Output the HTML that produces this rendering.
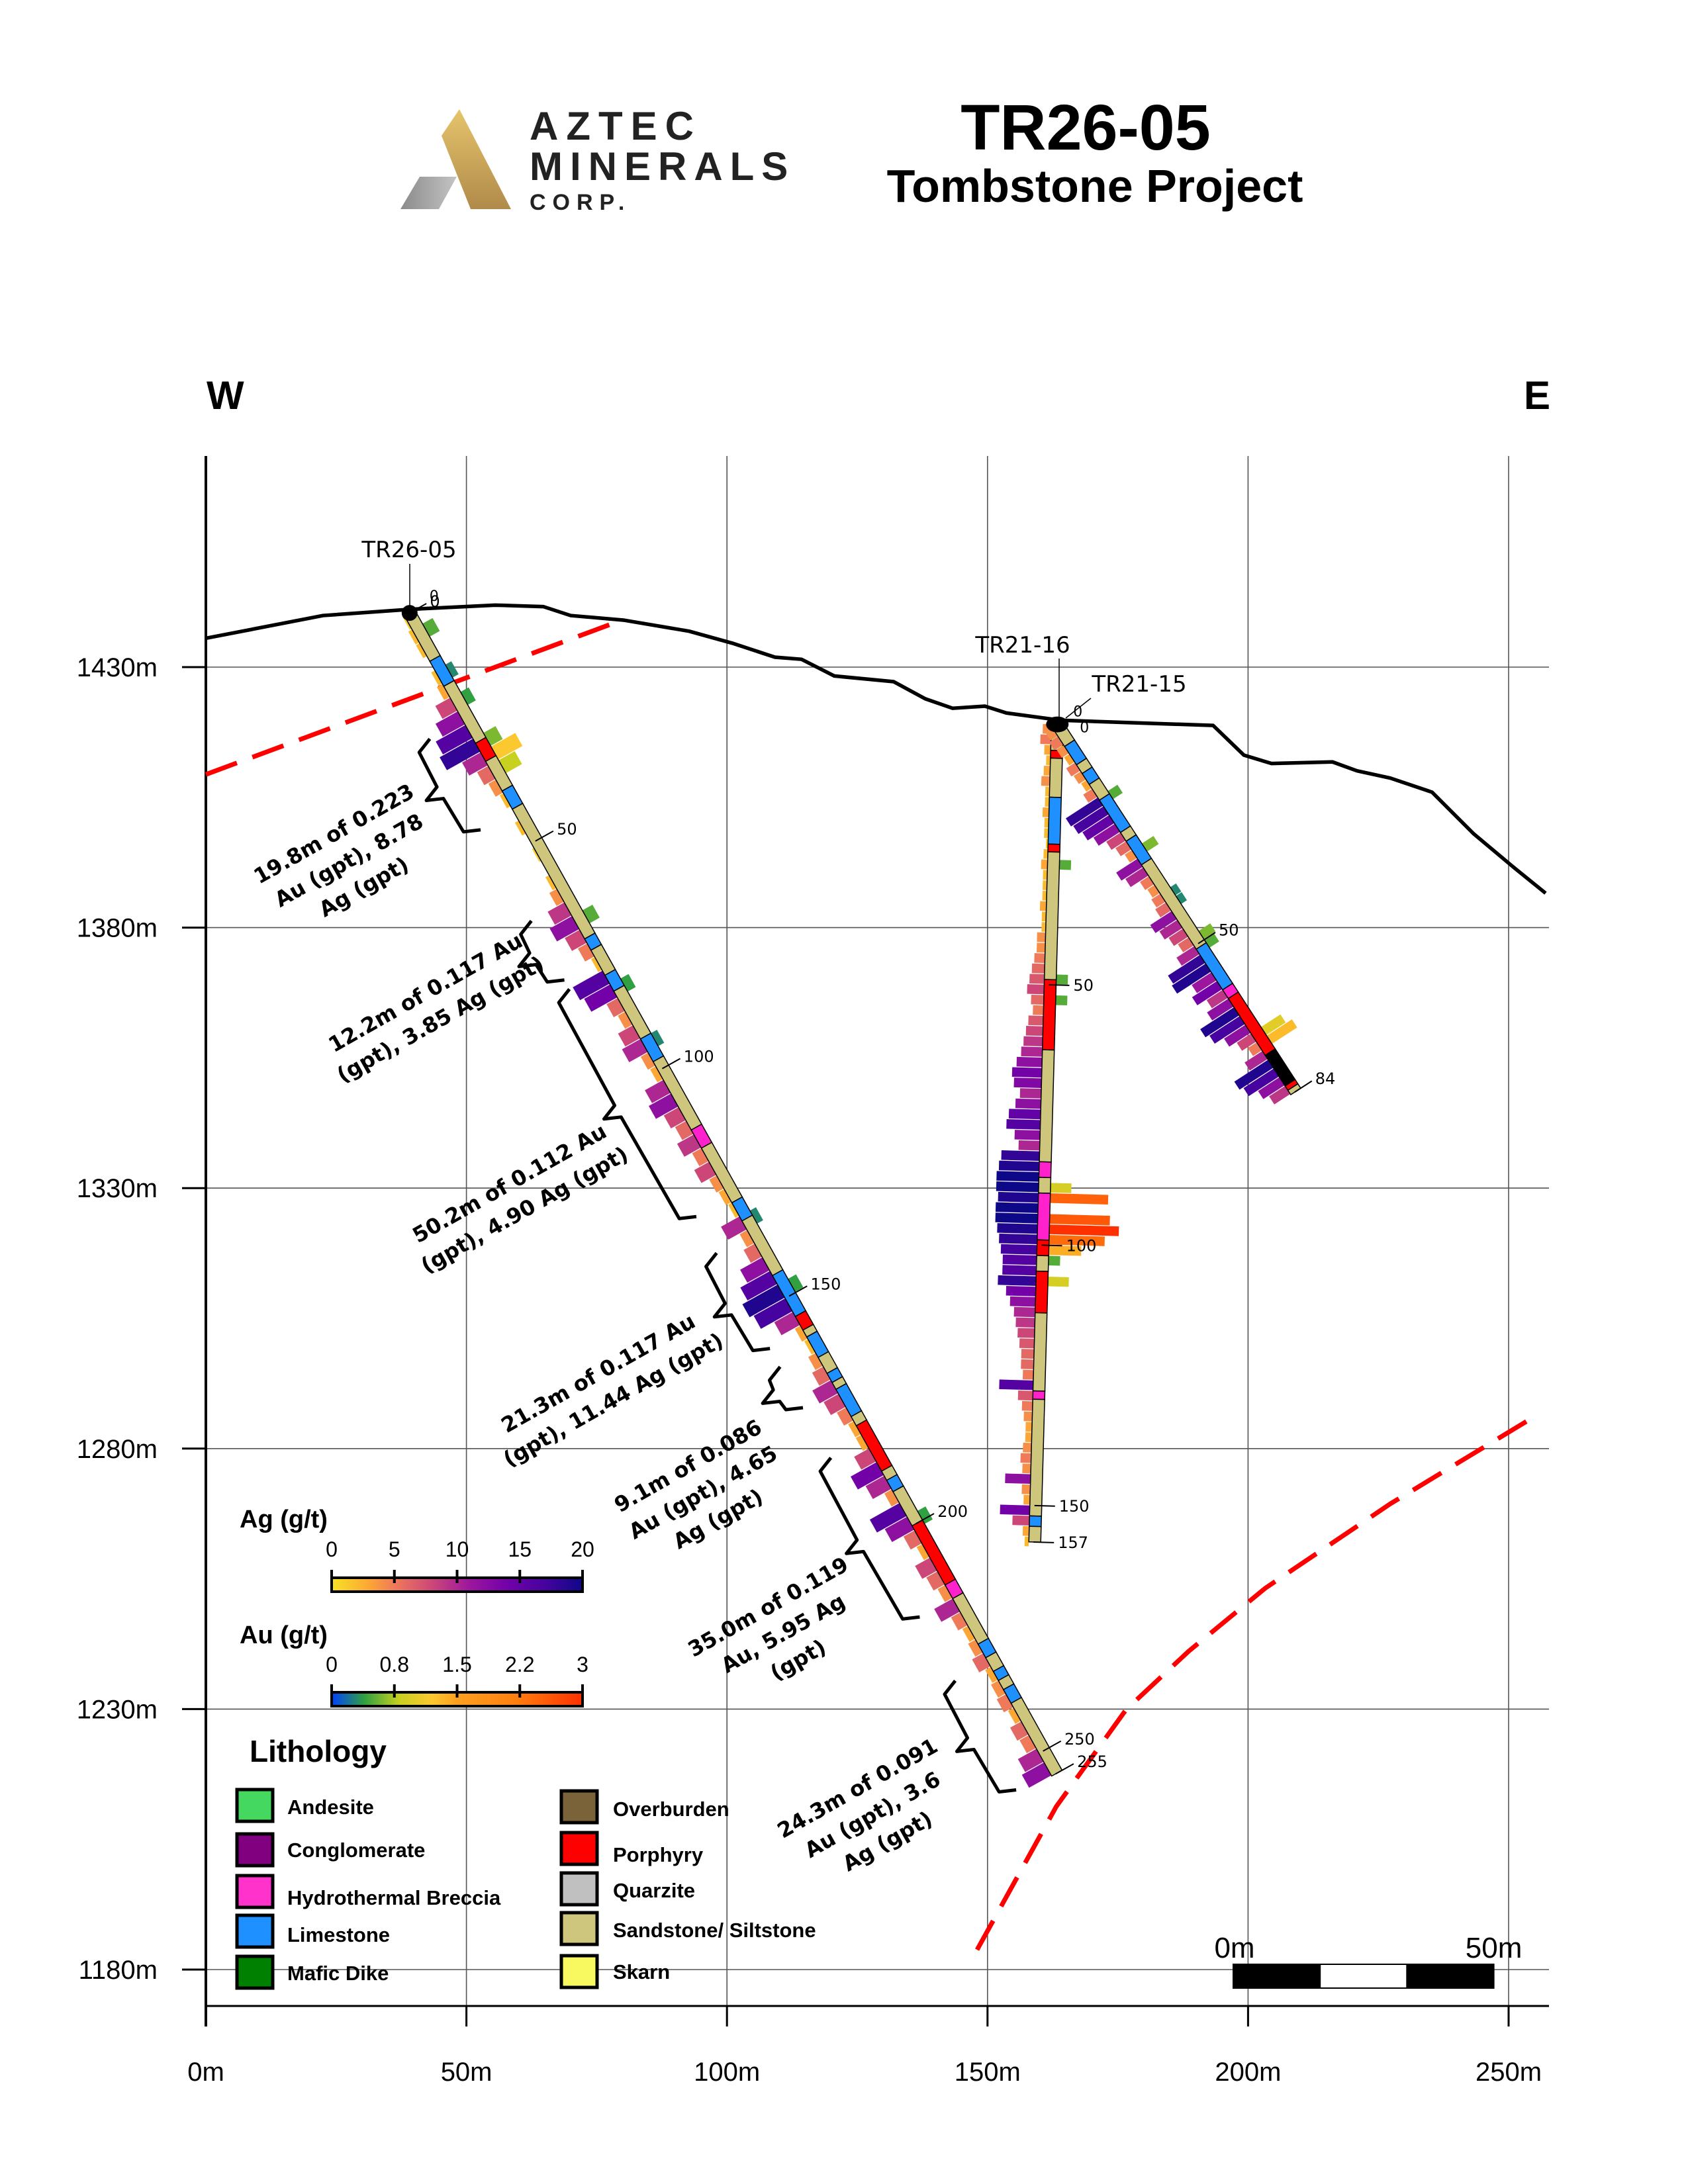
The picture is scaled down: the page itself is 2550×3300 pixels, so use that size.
<!DOCTYPE html>
<html><head><meta charset="utf-8"><title>TR26-05 Tombstone Project</title>
<style>
html,body{margin:0;padding:0;background:#fff;}
svg{display:block;}
.lib{font-family:"Liberation Sans",sans-serif;}
.dv{font-family:"DejaVu Sans","Liberation Sans",sans-serif;}
</style></head>
<body>
<svg id="chart" xmlns="http://www.w3.org/2000/svg" width="2550" height="3300" viewBox="0 0 2550 3300">
<defs>
<linearGradient id="gold" x1="0" y1="0" x2="0" y2="1"><stop offset="0" stop-color="#e6c46c"/><stop offset="1" stop-color="#b08a4a"/></linearGradient>
<linearGradient id="grey" x1="0" y1="0" x2="1" y2="0"><stop offset="0" stop-color="#8a8a8a"/><stop offset="1" stop-color="#c4c4c4"/></linearGradient>
<linearGradient id="agGrad" x1="0" y1="0" x2="1" y2="0">
<stop offset="0" stop-color="#f7e225"/><stop offset="0.15" stop-color="#fca636"/><stop offset="0.25" stop-color="#ef7a5a"/><stop offset="0.4" stop-color="#cc4778"/><stop offset="0.55" stop-color="#9c179e"/><stop offset="0.7" stop-color="#7201a8"/><stop offset="0.85" stop-color="#46039f"/><stop offset="1" stop-color="#0d0887"/></linearGradient>
<linearGradient id="auGrad" x1="0" y1="0" x2="1" y2="0">
<stop offset="0" stop-color="#0040ff"/><stop offset="0.13" stop-color="#30a040"/><stop offset="0.27" stop-color="#c8d020"/><stop offset="0.4" stop-color="#fcc830"/><stop offset="0.5" stop-color="#fca020"/><stop offset="0.73" stop-color="#ff8010"/><stop offset="1" stop-color="#ff3000"/></linearGradient>
</defs>

<g>
  <polygon points="605,316 634,267 690,267 663,316" fill="url(#grey)"/>
  <polygon points="694,165 667,205 711,316 772,316" fill="url(#gold)"/>
  <text x="800" y="211" class="lib" font-weight="bold" font-size="60" letter-spacing="12" fill="#222">AZTEC</text>
  <text x="800" y="272" class="lib" font-weight="bold" font-size="60" letter-spacing="11" fill="#222">MINERALS</text>
  <text x="800" y="317" class="lib" font-weight="bold" font-size="34" letter-spacing="10" fill="#222">CORP.</text>
</g>
<text x="1640" y="226" text-anchor="middle" class="lib" font-weight="bold" font-size="97">TR26-05</text>
<text x="1654" y="305" text-anchor="middle" class="lib" font-weight="bold" font-size="70">Tombstone Project</text>
<text x="312" y="618" class="lib" font-weight="bold" font-size="60">W</text>
<text x="2302" y="618" class="lib" font-weight="bold" font-size="60">E</text>

<g id="gridLayer"></g>
<g id="plotLayer"></g>
<g id="legendLayer"></g>
</svg>
<script>
// ---------- data ----------
const xTicks = [0, 50, 100, 150, 200, 250];
const yTicks = [1430, 1380, 1330, 1280, 1230, 1180];
const terrainDist = [-0.2,22.5,39.3,55.5,64.8,70.0,80.3,92.7,101.0,109.2,114.3,120.6,132.0,138.1,143.3,149.5,153.6,164.0,193.3,199.2,204.5,216.2,220.9,227.3,235.3,243.3,251.3,257.1];
const terrainElev = [1435.5,1439.9,1441.1,1441.9,1441.6,1439.9,1439.0,1436.9,1434.6,1431.9,1431.5,1428.3,1427.2,1423.9,1422.1,1422.5,1421.2,1419.8,1418.8,1413.1,1411.5,1411.8,1410.1,1408.7,1406.0,1398.0,1391.3,1386.6];
const faultUpperDist = [0, 77.9];
const faultUpperElev = [1409.4, 1438.3];
const faultLowerDist = [148.0,163.2,176.6,188.6,203.3,227.3,253.4];
const faultLowerElev = [1183.8,1211.3,1229.9,1241.1,1253.2,1269.4,1285.2];

// TR26-05 (3 m samples)
const h1Ag = [1,2,2,0,2,3,8,12,16,18, 10,6,4,2,0,2,0,1,0,2, 4,9,12,8,5,2,16,14,6,4, 8,10,4,3,10,12,8,6,9,5, 8,4,3,2,10,4,6,12,16,19, 17,10,3,2,4,6,10,8,5,3, 3,8,14,10,4,16,12,6,3,8, 6,4,10,5,3,4,6,3,4,5, 3,6,5,10,12];
const h1Au = [0,0.5,0,0,0.3,0,0.4,0,0,0.6, 1.2,0.8,0,0,0,0,0,0,0,0, 0,0,0.5,0,0,0,0,0.4,0,0, 0,0.3,0,0,0,0,0,0,0,0, 0,0,0,0,0.3,0,0,0,0,0.4, 0,0,0,0,0,0,0,0,0,0, 0,0,0,0,0,0,0.4,0,0,0, 0,0,0,0,0,0,0,0,0,0, 0,0,0,0,0];
const h1LitFrom = [0,10,15.5,28,32,38.5,42.5,71,73.5,79,82.5,93,98,113,117,129,133,145,154,157,158.5,163,166.5,168.5,170,176,178,188,190,192.5,200,213,216,226,229,232,234,236,239];
const h1LitTo   = [10,15.5,28,32,38.5,42.5,71,73.5,79,82.5,93,98,113,117,129,133,145,154,157,158.5,163,166.5,168.5,170,176,178,188,190,192.5,200,213,216,226,229,232,234,236,239,255];
const h1LitCode = ['S','L','S','P','S','L','S','L','S','L','S','L','S','B','S','L','S','L','P','S','L','S','L','S','L','S','P','S','L','S','P','B','S','L','S','L','S','L','S'];
const h1Ticks = [0,50,100,150,200,250,255];

// TR21-16 (2 m samples)
const h2Ag = [4,5,3,2,3,4,2,2,3,2,2,1,2,3,2,2,2,3,2,2,4, 4,5,6,7,8,6,5,7,8,9, 10,12,14,13,10,12,15,16,12,10, 18,19,20,20,19,20,20,19,18,17, 16,16,18,14,12, 10,9,8,7,6,6,5,16,7,5, 4,3,3,4,5,4,12,4,3,14,8,3,2];
const h2Au = [0,0,0,0,0,0,0,0,0,0, 0,0,0,0.5,0,0,0,0,0,0, 0,0,0,0,0.5,0,0.5,0,0,0, 0,0,0,0,0,0,0,0,0,0, 0,0,0,0,0.9,2.5,0,2.6,3.0,2.4, 1.4,0.5,0,0.9,0,0,0,0,0,0, 0,0,0,0,0,0,0,0,0,0, 0,0,0,0,0,0,0,0,0];
const h2LitFrom = [0,5,6.5,14,23,24.5,49,62.5,84,87,90,99,102,105,113,128,129.6,152,154];
const h2LitTo   = [5,6.5,14,23,24.5,49,62.5,84,87,90,99,102,105,113,128,129.6,152,154,157];
const h2LitCode = ['S','P','S','L','P','S','P','S','B','S','B','P','S','P','S','B','S','L','S'];
const h2Ticks = [50,100,150,157];

// TR21-15 (2 m samples)
const h3Ag = [4,5,4,3,5,4,3,5, 18,17,15,12, 8,6,4, 12,10,5, 4,5,6, 12,10,8, 6,10, 18,19,11,14, 9,12, 19,17,12, 8,5,10, 19,17,12, 9];
const h3Au = [0,0,0,0,0,0,0,0, 0.5,0,0,0, 0,0,0.6,0,0,0, 0,0.3,0.3,0,0,0, 0.6,0.5,0,0,0,0, 0,0,0,0,0,1.0, 1.3,0,0,0,0,0];
const h3LitFrom = [0,4.3,8.5,10.5,13,16.6,24,26,31.4,50.7,60,62,75,82,83];
const h3LitTo   = [4.3,8.5,10.5,13,16.6,24,26,31.4,50.7,60,62,75,82,83,84];
const h3LitCode = ['S','L','S','L','S','L','S','L','S','L','B','P','X','P','S'];
const h3Ticks = [50,84];

// intercept annotations on TR26-05
const bracketFrom = [23,63,78,136,161,181,230];
const bracketTo   = [43,76,128,157,170,216,254];
const annotLines = [
  ["19.8m of 0.223","Au (gpt), 8.78","Ag (gpt)"],
  ["12.2m of 0.117 Au","(gpt), 3.85 Ag (gpt)"],
  ["50.2m of 0.112 Au","(gpt), 4.90 Ag (gpt)"],
  ["21.3m of 0.117 Au","(gpt), 11.44 Ag (gpt)"],
  ["9.1m of 0.086","Au (gpt), 4.65","Ag (gpt)"],
  ["35.0m of 0.119","Au, 5.95 Ag","(gpt)"],
  ["24.3m of 0.091","Au (gpt), 3.6","Ag (gpt)"]
];
const agTickLabels = ["0","5","10","15","20"];
const auTickLabels = ["0","0.8","1.5","2.2","3"];
const lithNames = ["Andesite","Conglomerate","Hydrothermal Breccia","Limestone","Mafic Dike","Overburden","Porphyry","Quarzite","Sandstone/ Siltstone","Skarn"];

// ---------- layout / helpers ----------
const NS = 'http://www.w3.org/2000/svg';
const PXM = 7.872;
const X = m => 311 + m * PXM;
const Y = e => 1008 + (1430 - e) * PXM;
const annotCX = [527, 654, 781, 915, 1062, 1183, 1318];
const annotCY = [1300, 1520, 1808, 2095, 2255, 2468, 2742];
const lithColors = ["#44d860","#800080","#ff33cc","#1e90ff","#008000","#7a6338","#ff0000","#c0c0c0","#cfc67e","#f8f860"];
const litFill = {S:'#cfc67e', L:'#1e90ff', P:'#ff0000', B:'#ff22cc', X:'#000000'};
const litName = {S:'sandstone', L:'limestone', P:'porphyry', B:'breccia', X:'unknown'};
const agStops = [[0,[247,226,37]],[3,[252,166,54]],[5,[239,122,90]],[8,[204,71,120]],[11,[156,23,158]],[14,[114,1,168]],[17,[70,3,159]],[20,[13,8,135]]];
const auStops = [[0,[0,64,255]],[0.4,[48,160,64]],[0.8,[200,208,32]],[1.2,[252,200,48]],[1.5,[252,160,32]],[2.2,[255,128,16]],[3,[255,48,0]]];
function cmap(stops, v){
  if (v <= stops[0][0]) return 'rgb(' + stops[0][1].join(',') + ')';
  for (let i = 1; i < stops.length; i++){
    if (v <= stops[i][0]){
      const t = (v - stops[i-1][0]) / (stops[i][0] - stops[i-1][0]);
      const a = stops[i-1][1], b = stops[i][1];
      return 'rgb(' + a.map((c,k)=>Math.round(c + (b[k]-c)*t)).join(',') + ')';
    }
  }
  return 'rgb(' + stops[stops.length-1][1].join(',') + ')';
}
function mk(tag, attrs, parent){
  const e = document.createElementNS(NS, tag);
  for (const k in attrs) e.setAttribute(k, attrs[k]);
  parent.appendChild(e);
  return e;
}
const gridL = document.getElementById('gridLayer');
const plotL = document.getElementById('plotLayer');
const legL = document.getElementById('legendLayer');

// ---------- grid & axes ----------
xTicks.forEach(m => {
  const l = mk('line', {x1:X(m), y1:689, x2:X(m), y2:3031, stroke:'#555', 'stroke-width':1.6}, gridL);
  
  
  const t = mk('line', {x1:X(m), y1:3031, x2:X(m), y2:3062, stroke:'#000', 'stroke-width':3}, gridL);
  
  
  const tx = mk('text', {x:X(m), y:3144, 'text-anchor':'middle', 'font-size':40, class:'lib'}, gridL);
  tx.textContent = m + 'm';
  
  
});
yTicks.forEach(e => {
  const l = mk('line', {x1:311, y1:Y(e), x2:2340, y2:Y(e), stroke:'#555', 'stroke-width':1.6}, gridL);
  
  
  const t = mk('line', {x1:275, y1:Y(e), x2:311, y2:Y(e), stroke:'#000', 'stroke-width':3}, gridL);
  
  
  const tx = mk('text', {x:238, y:Y(e)+14, 'text-anchor':'end', 'font-size':40, class:'lib'}, gridL);
  tx.textContent = e + 'm';
  
  
});
const yAxis = mk('line', {x1:311, y1:689, x2:311, y2:3062, stroke:'#000', 'stroke-width':4}, gridL);


const xAxis = mk('line', {x1:311, y1:3031, x2:2340, y2:3031, stroke:'#000', 'stroke-width':3}, gridL);



// ---------- terrain & faults ----------
const terr = mk('polyline', {points: terrainDist.map((d,i)=>X(d)+','+Y(terrainElev[i])).join(' '), fill:'none', stroke:'#000', 'stroke-width':5.5, 'stroke-linejoin':'round'}, plotL);


const fu = mk('polyline', {points: faultUpperDist.map((d,i)=>X(d)+','+Y(faultUpperElev[i])).join(' '), fill:'none', stroke:'#ff0000', 'stroke-width':7, 'stroke-dasharray':'50 25'}, plotL);


const fl = mk('polyline', {points: faultLowerDist.map((d,i)=>X(d)+','+Y(faultLowerElev[i])).join(' '), fill:'none', stroke:'#ff0000', 'stroke-width':7, 'stroke-dasharray':'50 25'}, plotL);



// ---------- drill holes ----------
const HW = 9, AGS = 3.2, AUS = 35;
function drawHole(name, cx, cy, ang, step, ag, au, lf, lt, lc, ticks){
  const g = mk('g', {transform:'translate('+cx+','+cy+') rotate('+ang+')'}, plotL);
  
  
  ag.forEach((v,i) => {
    if (v <= 0) return;
    const r = mk('rect', {x:-HW - v*AGS, y:i*step*PXM, width:v*AGS, height:step*PXM-1.2, fill:cmap(agStops, v)}, g);
    
    
  });
  au.forEach((v,i) => {
    if (v <= 0) return;
    const r = mk('rect', {x:HW, y:i*step*PXM, width:v*AUS, height:step*PXM-1.2, fill:cmap(auStops, v)}, g);
    
    
  });
  lf.forEach((f,i) => {
    const r = mk('rect', {x:-HW, y:f*PXM, width:2*HW, height:(lt[i]-f)*PXM, fill:litFill[lc[i]], stroke:'#000', 'stroke-width':1.5}, g);
    
    
  });
  ticks.forEach(d => {
    const l = mk('line', {x1:-2, y1:d*PXM, x2:HW+20, y2:d*PXM, stroke:'#000', 'stroke-width':2}, g);
    
    
    const t = mk('text', {transform:'translate('+(HW+26)+','+(d*PXM)+') rotate('+(-ang)+')', 'font-size':24, class:'dv', 'dominant-baseline':'central'}, g);
    t.textContent = d;
    
    
  });
  return g;
}
const h1 = drawHole('tr26-05', X(39.1), Y(1440.4), -29.15, 3, h1Ag, h1Au, h1LitFrom, h1LitTo, h1LitCode, h1Ticks);
drawHole('tr21-16', X(163.4), Y(1419.0), 1.58, 2, h2Ag, h2Au, h2LitFrom, h2LitTo, h2LitCode, h2Ticks);
drawHole('tr21-15', X(163.4), Y(1419.0), -33, 2, h3Ag, h3Au, h3LitFrom, h3LitTo, h3LitCode, h3Ticks);

// brackets on TR26-05
bracketFrom.forEach((a,i) => {
  const b = bracketTo[i], y1 = a*PXM, y2 = b*PXM, m = (y1+y2)/2;
  const p = mk('path', {d:'M-66,'+y1+' L-90,'+(y1+10)+' L-92,'+(m-10)+' L-116,'+m+' L-92,'+(m+10)+' L-90,'+(y2-10)+' L-66,'+y2, fill:'none', stroke:'#000', 'stroke-width':5, 'stroke-linejoin':'round'}, h1);
  
  
});
annotLines.forEach((lines,i) => {
  const g = mk('g', {transform:'translate('+annotCX[i]+','+annotCY[i]+') rotate(-29.5)'}, plotL);
  
  
  lines.forEach((s,k) => {
    const t = mk('text', {x:0, y:(k-(lines.length-1)/2)*46, 'text-anchor':'middle', 'dominant-baseline':'central', 'font-size':32, 'font-weight':'bold', class:'dv'}, g);
    t.textContent = s;
    
    
  });
});

// collars & labels
const c1 = mk('circle', {cx:X(39.1), cy:Y(1440.4), r:12, fill:'#000'}, plotL);


const c2 = mk('ellipse', {cx:X(163.4), cy:Y(1419.0), rx:17, ry:12, fill:'#000'}, plotL);


const z1 = mk('text', {x:X(39.1)+30, y:Y(1440.4)-18, 'font-size':22, class:'dv'}, plotL);
z1.textContent = '0';


const z2 = mk('text', {x:X(163.4)+24, y:Y(1419.0)-12, 'font-size':22, class:'dv'}, plotL);
z2.textContent = '0';


const z3 = mk('text', {x:X(163.4)+34, y:Y(1419.0)+12, 'font-size':22, class:'dv'}, plotL);
z3.textContent = '0';



const ll1 = mk('line', {x1:619, y1:852, x2:619, y2:926, stroke:'#000', 'stroke-width':1.5}, plotL);


const lb1 = mk('text', {x:618, y:842, 'text-anchor':'middle', 'font-size':34, class:'dv'}, plotL);
lb1.textContent = 'TR26-05';


const ll2 = mk('line', {x1:1600, y1:995, x2:1600, y2:1090, stroke:'#000', 'stroke-width':1.5}, plotL);


const lb2 = mk('text', {x:1545, y:986, 'text-anchor':'middle', 'font-size':34, class:'dv'}, plotL);
lb2.textContent = 'TR21-16';


const ll3 = mk('line', {x1:1648, y1:1055, x2:1610, y2:1085, stroke:'#000', 'stroke-width':1.5}, plotL);


const lb3 = mk('text', {x:1721, y:1045, 'text-anchor':'middle', 'font-size':34, class:'dv'}, plotL);
lb3.textContent = 'TR21-15';



// ---------- legends ----------
function colorbar(title, ty, labels, ly, by, grad, key){
  const t = mk('text', {x:362, y:ty, 'font-size':38, 'font-weight':'bold', class:'lib'}, legL);
  t.textContent = title;
  
  
  const r = mk('rect', {x:501, y:by, width:379, height:21, fill:'url(#' + grad + ')', stroke:'#000', 'stroke-width':4}, legL);
  
  
  labels.forEach((s,i) => {
    const x = 501 + i*379/(labels.length-1);
    const tk = mk('line', {x1:x, y1:by-12, x2:x, y2:by+8, stroke:'#000', 'stroke-width':4}, legL);
    
    
    const tx = mk('text', {x:x, y:ly, 'text-anchor':'middle', 'font-size':32, class:'lib'}, legL);
    tx.textContent = s;
    
    
  });
}
colorbar('Ag (g/t)', 2308, agTickLabels, 2352, 2384, 'agGrad', 'ag');
colorbar('Au (g/t)', 2483, auTickLabels, 2526, 2557, 'auGrad', 'au');

const lt = mk('text', {x:377, y:2662, 'font-size':46, 'font-weight':'bold', class:'lib'}, legL);
lt.textContent = 'Lithology';


const swY1 = [2728,2795,2858,2918,2980], txY1 = [2730,2795,2867,2923,2981];
const swY2 = [2730,2793,2854,2914,2979], txY2 = [2733,2802,2856,2916,2979];
lithNames.forEach((n,i) => {
  const col2 = i >= 5, k = i % 5;
  const sx = col2 ? 848 : 358, cy = col2 ? swY2[k] : swY1[k];
  const s = mk('rect', {x:sx, y:cy-24, width:54, height:48, fill:lithColors[i], stroke:'#000', 'stroke-width':5}, legL);
  
  
  const t = mk('text', {x: col2 ? 926 : 434, y:(col2 ? txY2[k] : txY1[k]) + 11, 'font-size':31, 'font-weight':'bold', class:'lib'}, legL);
  t.textContent = n;
  
  
});

// scale bar
const sbx = 1863, sbw = 50*PXM;
[0,1,2].forEach(i => {
  const r = mk('rect', {x:sbx + i*sbw/3, y:2968, width:sbw/3, height:36, fill: i===1 ? '#fff' : '#000', stroke:'#000', 'stroke-width':2}, legL);
  
  
});
const s0 = mk('text', {x:sbx+2, y:2958, 'text-anchor':'middle', 'font-size':44, class:'lib'}, legL);
s0.textContent = '0m';


const s1 = mk('text', {x:sbx+sbw, y:2958, 'text-anchor':'middle', 'font-size':44, class:'lib'}, legL);
s1.textContent = '50m';


</script>
</body></html>
